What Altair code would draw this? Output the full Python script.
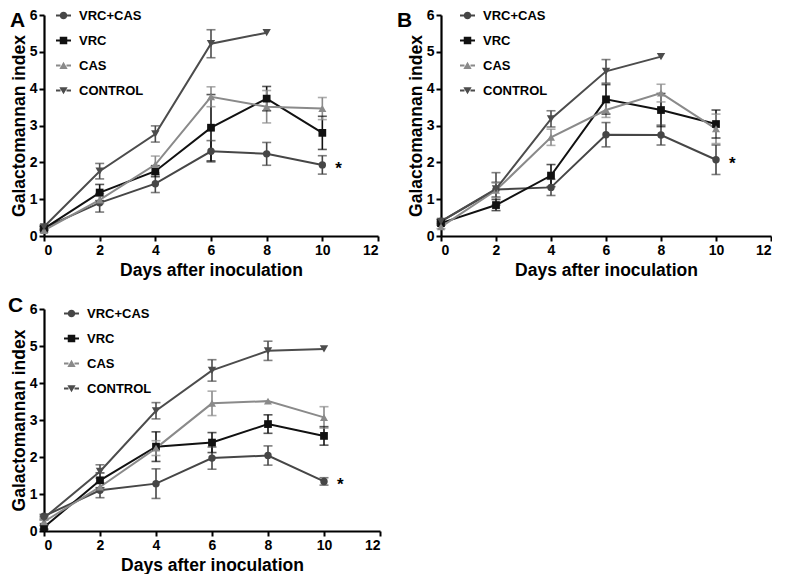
import altair as alt
import pandas as pd

days = [0, 2, 4, 6, 8, 10]
series_names = ["VRC+CAS", "VRC", "CAS", "CONTROL"]
series_colors = ["#464646", "#111111", "#8a8a8a", "#4c4c4c"]

# Panel A
a_means = [
    [0.22, 0.90, 1.42, 2.30, 2.23, 1.93],
    [0.20, 1.18, 1.76, 2.94, 3.73, 2.80],
    [0.15, 0.98, 1.94, 3.78, 3.51, 3.46],
    [0.25, 1.76, 2.77, 5.22, 5.52, None],
]
a_errs = [
    [0.05, 0.25, 0.24, 0.29, 0.31, 0.25],
    [0.05, 0.22, 0.15, 0.90, 0.33, 0.45],
    [0.05, 0.10, 0.23, 0.27, 0.44, 0.30],
    [0.05, 0.21, 0.22, 0.38, 0.00, None],
]
# Panel B
b_means = [
    [0.40, 1.26, 1.32, 2.75, 2.74, 2.07],
    [0.35, 0.84, 1.64, 3.71, 3.42, 3.04],
    [0.25, 1.24, 2.68, 3.42, 3.88, 2.91],
    [0.40, 1.28, 3.18, 4.47, 4.87, None],
]
b_errs = [
    [0.05, 0.20, 0.22, 0.33, 0.27, 0.40],
    [0.05, 0.15, 0.30, 0.40, 0.45, 0.38],
    [0.05, 0.20, 0.22, 0.20, 0.24, 0.40],
    [0.05, 0.44, 0.22, 0.32, 0.00, None],
]
# Panel C
c_means = [
    [0.40, 1.10, 1.28, 1.97, 2.04, 1.34],
    [0.10, 1.37, 2.28, 2.39, 2.89, 2.57],
    [0.25, 1.19, 2.24, 3.45, 3.51, 3.07],
    [0.35, 1.61, 3.25, 4.34, 4.87, 4.92],
]
c_errs = [
    [0.05, 0.20, 0.40, 0.30, 0.26, 0.10],
    [0.05, 0.20, 0.40, 0.27, 0.25, 0.25],
    [0.05, 0.10, 0.20, 0.33, 0.00, 0.29],
    [0.05, 0.18, 0.22, 0.29, 0.26, 0.00],
]

x_ticks = [0, 2, 4, 6, 8, 10, 12]
y_ticks = [0, 1, 2, 3, 4, 5, 6]

FONT = "Liberation Sans"

point_shapes = ["circle", "square", "triangle-up", "triangle-down"]
point_sizes = [55, 70, 80, 80]
seg = "M-1,-0.12H-0.4V0.12H-1Z M0.4,-0.12H1V0.12H0.4Z "
legend_shapes = [
    seg + "M0.5,0A0.5,0.5 0 1,1 -0.5,0A0.5,0.5 0 1,1 0.5,0Z",
    seg + "M-0.5,-0.5H0.5V0.5H-0.5Z",
    seg + "M0,-0.5L0.55,0.45L-0.55,0.45Z",
    seg + "M-0.55,-0.45L0.55,-0.45L0,0.5Z",
]


def build_df(means, errs):
    rows = []
    for s, m, e in zip(series_names, means, errs):
        for d, mv, ev in zip(days, m, e):
            if mv is None:
                continue
            rows.append(dict(day=d, series=s, gm=mv, lo=mv - ev, hi=mv + ev, err=ev))
    return pd.DataFrame(rows)


def panel(means, errs, letter, w, h, leg_x, leg_y, let_x, let_y):
    df = build_df(means, errs)
    xs = alt.Scale(domain=[0, 12], nice=False)
    ys = alt.Scale(domain=[0, 6], nice=False)
    cs = alt.Scale(domain=series_names, range=series_colors)
    xax = alt.Axis(values=x_ticks, title="Days after inoculation", titlePadding=4)
    yax = alt.Axis(values=y_ticks, title="Galactomannan index", titlePadding=1)

    base = alt.Chart(df)
    x = alt.X("day:Q", scale=xs, axis=xax)
    y = alt.Y("gm:Q", scale=ys, axis=yax)
    col = alt.Color("series:N", scale=cs, legend=None)

    eb = base.transform_filter("datum.err > 0")
    rules = eb.mark_rule(strokeWidth=1.6).encode(
        x=x, y=alt.Y("lo:Q", scale=ys, axis=yax), y2="hi:Q", color=col)
    cap_lo = eb.mark_tick(orient="horizontal", size=9, thickness=1.6).encode(
        x=x, y=alt.Y("lo:Q", scale=ys, axis=yax), color=col)
    cap_hi = eb.mark_tick(orient="horizontal", size=9, thickness=1.6).encode(
        x=x, y=alt.Y("hi:Q", scale=ys, axis=yax), color=col)
    lines = base.mark_line(strokeWidth=2).encode(
        x=x, y=y, color=col, detail="series:N")
    points = base.mark_point(filled=True, opacity=1).encode(
        x=x, y=y, color=col,
        shape=alt.Shape("series:N", scale=alt.Scale(domain=series_names, range=point_shapes), legend=None),
        size=alt.Size("series:N", scale=alt.Scale(domain=series_names, range=point_sizes), legend=None),
    )
    legend_props = dict(
        title=None, orient="none", legendX=leg_x, legendY=leg_y,
        symbolSize=225, labelFont=FONT, labelFontWeight="bold", labelFontSize=13,
        labelColor="black", labelOffset=8, rowPadding=10, symbolStrokeWidth=0)
    leg = base.transform_filter("false").mark_point(filled=True, opacity=1, size=225).encode(
        x=x, y=y,
        color=alt.Color("series:N", scale=cs, legend=alt.Legend(**legend_props)),
        shape=alt.Shape("series:N", scale=alt.Scale(domain=series_names, range=legend_shapes),
                        legend=alt.Legend(**legend_props)),
    )
    star = base.transform_filter("datum.series == 'VRC+CAS' && datum.day == 10").mark_text(
        text="*", font=FONT, fontWeight="bold", fontSize=17, dx=13, dy=4, color="black",
        align="left", baseline="middle").encode(x=x, y=y)
    lab = alt.Chart(pd.DataFrame({"letter": [letter]})).mark_text(
        font=FONT, fontWeight="bold", fontSize=21, align="left", baseline="top", color="black"
    ).encode(x=alt.value(let_x), y=alt.value(let_y), text="letter:N")

    return alt.layer(rules, cap_lo, cap_hi, lines, points, leg, star, lab).resolve_scale(
        shape="independent", color="independent", size="independent"
    ).properties(width=w, height=h)


pa = panel(a_means, a_errs, "A", 334, 221, 12, -7, -34, -5)
pb = panel(b_means, b_errs, "B", 330, 221, 19, -7, -44, -5)
pc = panel(c_means, c_errs, "C", 336, 222, 20, -3, -36, -14)

chart = alt.vconcat(
    alt.hconcat(pa, pb, spacing=18),
    pc,
    spacing=16,
).properties(padding=0).configure_view(stroke=None).configure_axis(
    grid=False, domainColor="black", domainWidth=2.2, tickColor="black", tickWidth=2,
    tickSize=5, labelFont=FONT, labelFontWeight="bold", labelFontSize=14,
    labelColor="black", labelPadding=2, titleFont=FONT, titleFontWeight="bold",
    titleFontSize=17.5, titleColor="black",
)

chart.save("out.html", embed_options={"renderer": "svg", "actions": False})
